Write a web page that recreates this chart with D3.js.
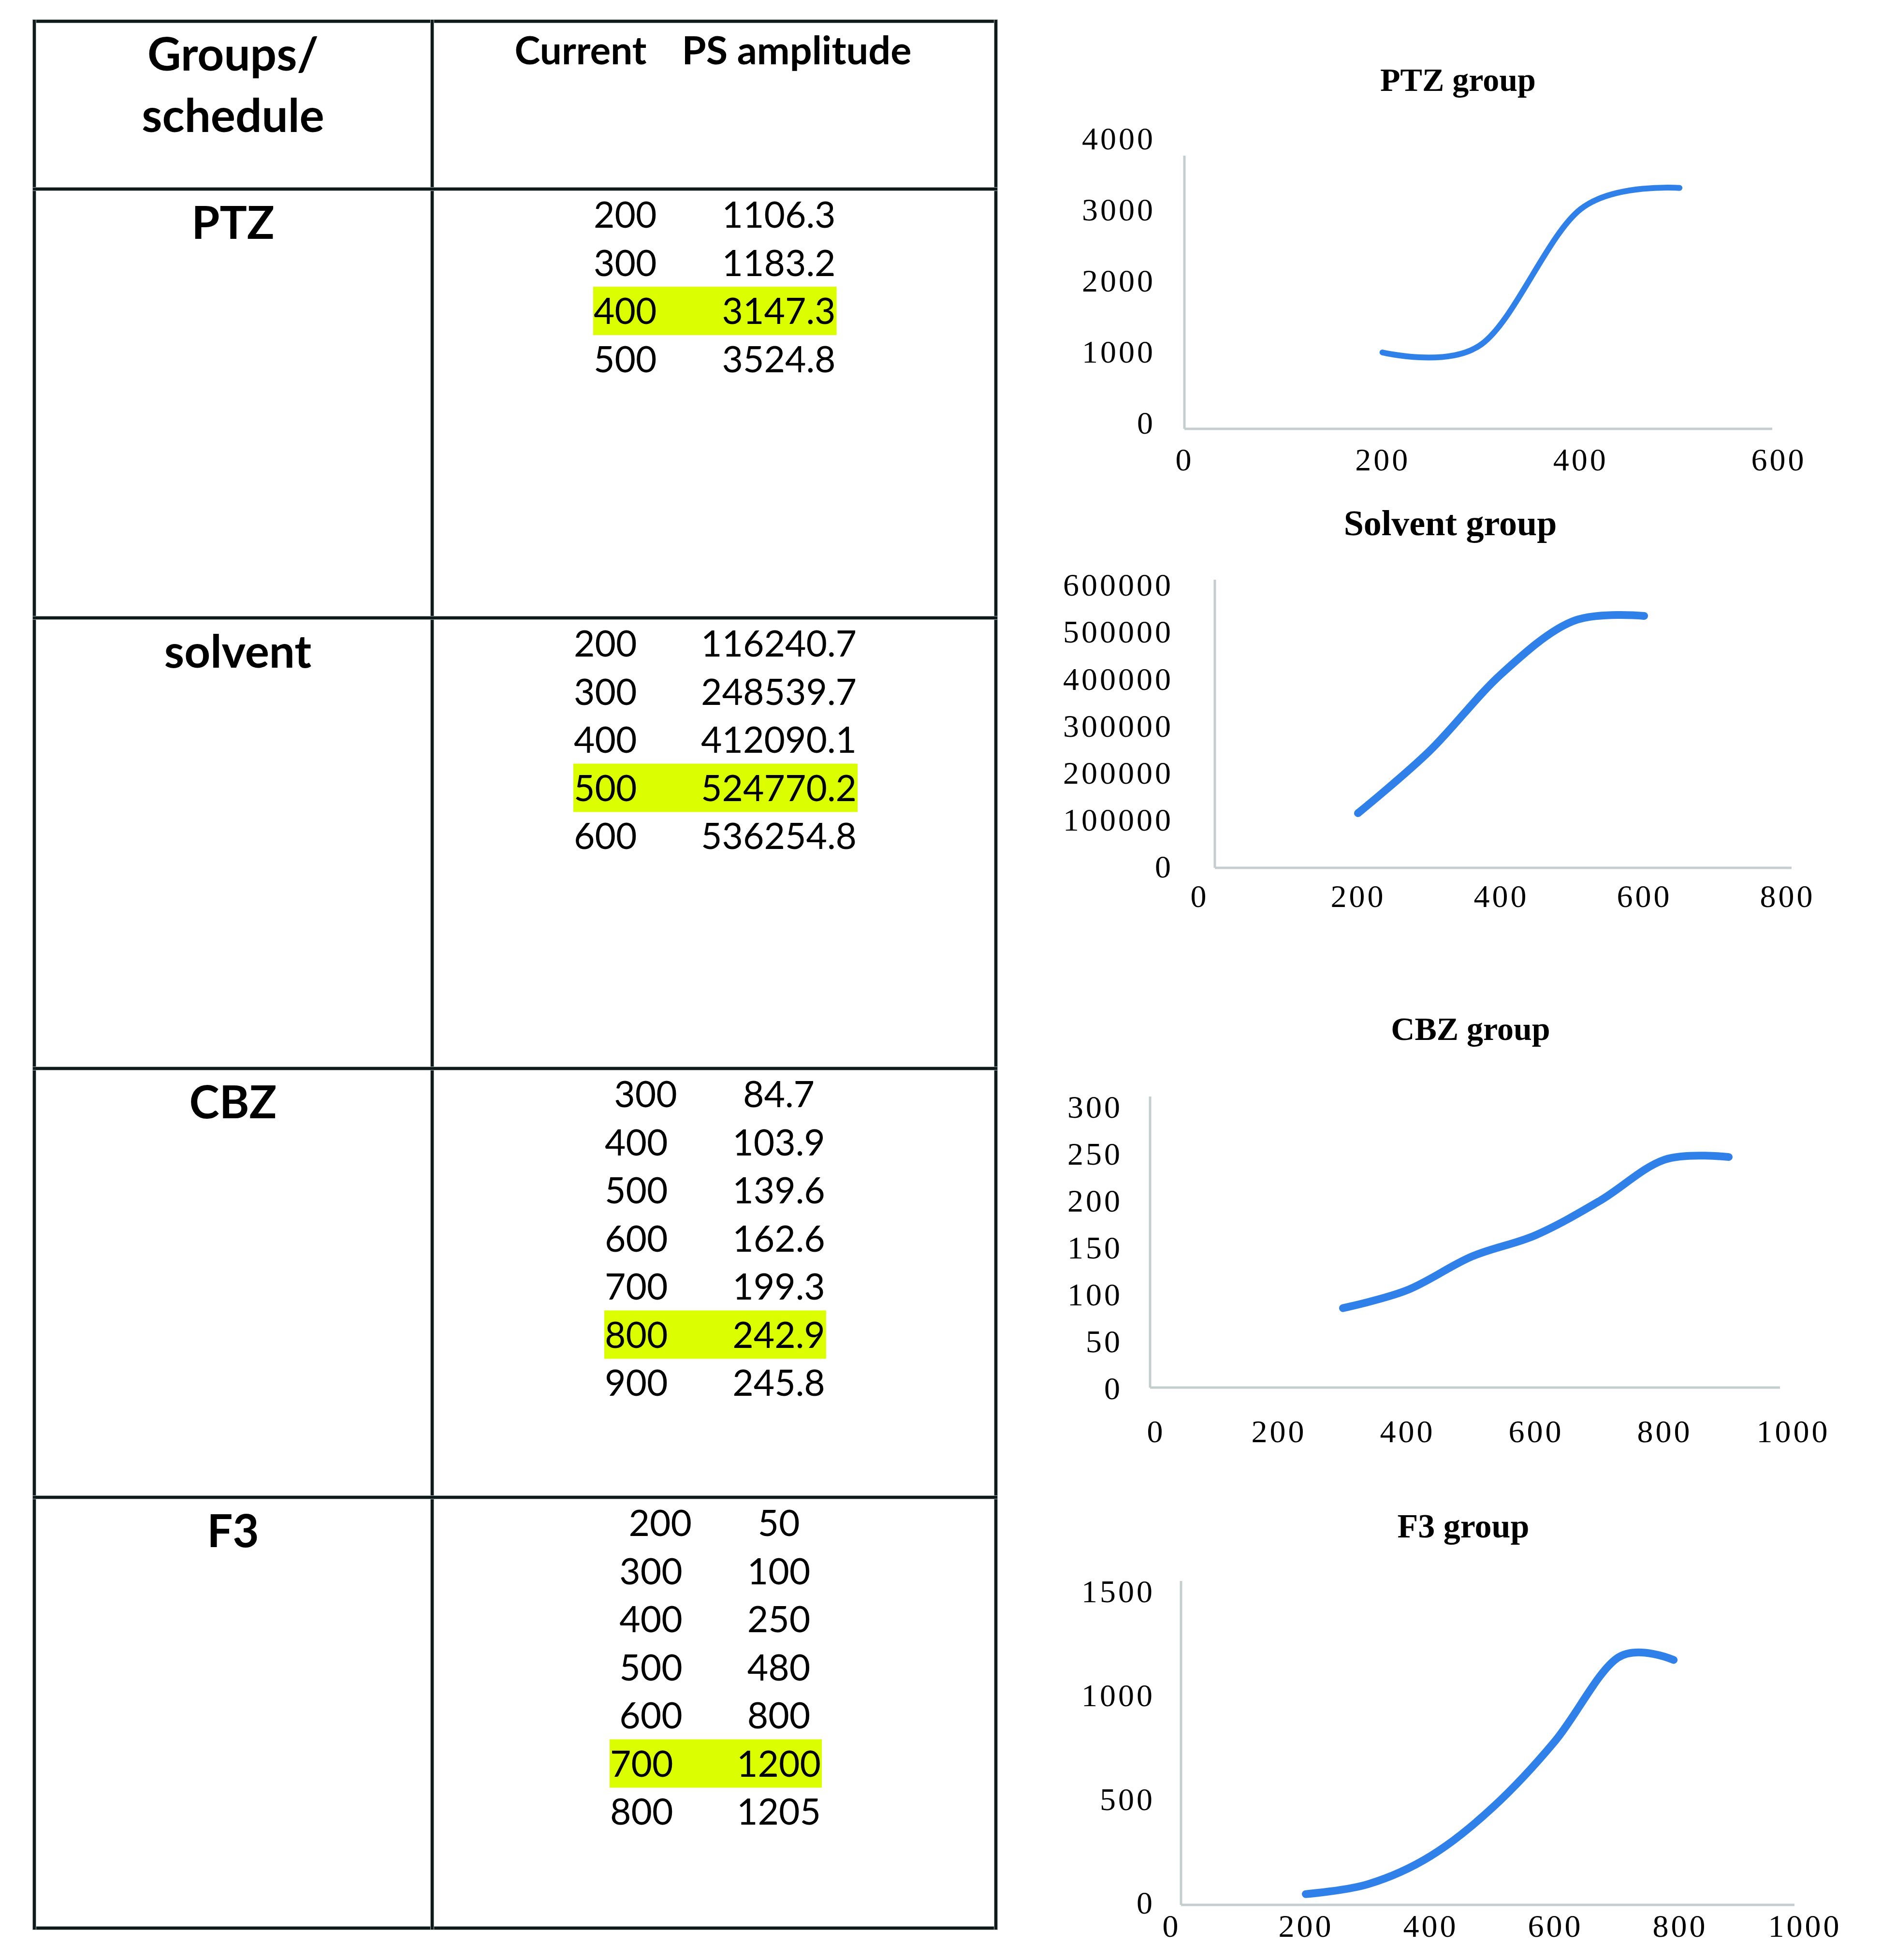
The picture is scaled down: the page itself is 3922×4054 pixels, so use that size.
<!DOCTYPE html>
<html><head><meta charset="utf-8">
<script src="https://cdn.jsdelivr.net/npm/d3@7"></script>
<style>body{margin:0;background:#fff} text.pre{white-space:pre}</style>
</head><body>
<svg id="c" width="3922" height="4054"></svg>
<script>
// ---------- DATA ----------
const groups = ["PTZ", "solvent", "CBZ", "F3"];
const headerLeft = ["Groups/", "schedule"];
const headerRight = ["Current", "PS amplitude"];

// current labels keep the leading spaces of the original table cells
const ptzCurrent = ["200", "300", "400", "500"];
const ptzAmplitude = ["1106.3", "1183.2", "3147.3", "3524.8"];
const solventCurrent = ["200", "300", "400", "500", "600"];
const solventAmplitude = ["116240.7", "248539.7", "412090.1", "524770.2", "536254.8"];
const cbzCurrent = [" 300", "400", "500", "600", "700", "800", "900"];
const cbzAmplitude = ["84.7", "103.9", "139.6", "162.6", "199.3", "242.9", "245.8"];
const f3Current = ["  200", " 300", " 400", " 500", " 600", "700", "800"];
const f3Amplitude = ["50", "100", "250", "480", "800", "1200", "1205"];
const highlightedRow = [2, 3, 5, 5];

const chartTitles = ["PTZ group", "Solvent group", "CBZ group", "F3 group"];
// curve values
const ptzX = [200, 300, 400, 500];
const ptzY = [1075, 1190, 3090, 3390];
const solventX = [200, 300, 400, 500, 600];
const solventY = [116240.7, 248539.7, 412090.1, 524770.2, 536254.8];
const cbzX = [300, 400, 500, 600, 700, 800, 900];
const cbzY = [84.7, 103.9, 139.6, 162.6, 199.3, 242.9, 245.8];
const f3X = [200, 300, 400, 500, 600, 700, 790];
const f3Y = [52, 100, 235, 470, 790, 1190, 1180];

const ptzXTicks = [0, 200, 400, 600];
const ptzYTicks = [0, 1000, 2000, 3000, 4000];
const solventXTicks = [0, 200, 400, 600, 800];
const solventYTicks = [0, 100000, 200000, 300000, 400000, 500000, 600000];
const cbzXTicks = [0, 200, 400, 600, 800, 1000];
const cbzYTicks = [0, 50, 100, 150, 200, 250, 300];
const f3XTicks = [0, 200, 400, 600, 800, 1000];
const f3YTicks = [0, 500, 1000, 1500];

// ---------- DRAW ----------
const svg = d3.select("#c");
svg.append("rect").attr("width", 3922).attr("height", 4054).attr("fill", "#fff");

// ---- table ----
const T = {left: 71, right: 2060, top: 44, bottom: 3988, divider: 894};
const groupTops = [391, 1278, 2210, 3097];
const currentLeft = [1228, 1187, 1251, 1262];
const valueX = 1611;
const rowStep = 99.5;
const firstRow = 53;
const tableRows = [
  [ptzCurrent, ptzAmplitude],
  [solventCurrent, solventAmplitude],
  [cbzCurrent, cbzAmplitude],
  [f3Current, f3Amplitude]
];

const hlG = svg.append("g");
const txtG = svg.append("g").attr("font-family", "Lato, 'Open Sans', sans-serif").attr("fill", "#000");

// headers
txtG.selectAll("text.hl").data(headerLeft).join("text")
  .attr("x", 482).attr("y", (d, i) => [146, 273][i])
  .attr("text-anchor", "middle").attr("font-weight", 700).attr("font-size", 96)
  .text(d => d);
txtG.append("text").attr("x", 1201).attr("y", 133).attr("text-anchor", "middle")
  .attr("font-weight", 700).attr("font-size", 80).text(headerRight[0]);
txtG.append("text").attr("x", 1648).attr("y", 133).attr("text-anchor", "middle")
  .attr("font-weight", 700).attr("font-size", 81).text(headerRight[1]);

groups.forEach((g, gi) => {
  const top = groupTops[gi];
  txtG.append("text").attr("x", 482 + (gi === 1 ? 10 : 0)).attr("y", top + 69).attr("dy", "0.36em")
    .attr("text-anchor", "middle").attr("font-weight", 700).attr("font-size", 94).text(g);
  const [cur, amp] = tableRows[gi];
  cur.forEach((c, ri) => {
    const cy = top + firstRow + ri * rowStep;
    txtG.append("text").attr("class", "pre").attr("xml:space", "preserve")
      .attr("x", currentLeft[gi]).attr("y", cy).attr("dy", "0.36em")
      .attr("text-anchor", "start").attr("font-size", 75).text(c);
    const t2 = txtG.append("text").attr("x", valueX).attr("y", cy).attr("dy", "0.36em")
      .attr("text-anchor", "middle").attr("font-size", 75).text(amp[ri]);
    if (ri === highlightedRow[gi]) {
      const b2 = t2.node().getBBox();
      hlG.append("rect").attr("x", currentLeft[gi] - 1).attr("y", cy - 50)
        .attr("width", b2.x + b2.width + 2 - (currentLeft[gi] - 1)).attr("height", 100)
        .attr("fill", "#dcff00");
    }
  });
});

// table lines
const lineG = svg.append("g").attr("stroke-linecap", "square");
function tl(x1, y1, x2, y2) {
  lineG.append("line").attr("x1", x1).attr("y1", y1).attr("x2", x2).attr("y2", y2)
    .attr("stroke", "#a9b3b3").attr("stroke-width", 8);
  lineG.append("line").attr("x1", x1).attr("y1", y1).attr("x2", x2).attr("y2", y2)
    .attr("stroke", "#111a1a").attr("stroke-width", 6);
}
tl(T.left, T.top, T.right, T.top);
tl(T.left, T.bottom, T.right, T.bottom);
tl(T.left, T.top, T.left, T.bottom);
tl(T.right, T.top, T.right, T.bottom);
tl(T.divider, T.top, T.divider, T.bottom);
groupTops.forEach(y => tl(T.left, y, T.right, y));

// ---- charts ----
const chartData = [
  {x: ptzX, y: ptzY, xt: ptzXTicks, yt: ptzYTicks},
  {x: solventX, y: solventY, xt: solventXTicks, yt: solventYTicks},
  {x: cbzX, y: cbzY, xt: cbzXTicks, yt: cbzYTicks},
  {x: f3X, y: f3Y, xt: f3XTicks, yt: f3YTicks}
];
const layout = [
  {tx: 3016, ty: 166, tsize: 68, x0: 2450, x1: 3679, y0: 887, y1: 299, axTop: 322, axRight: 3666, yPad: 60, yShift: -10, xLab: 950, zeroShift: 0, sw: 12},
  {tx: 3000, ty: 1083, tsize: 74, x0: 2513, x1: 3697, y0: 1795, y1: 1212, axTop: 1199, axRight: 3706, yPad: 86, yShift: 0, xLab: 1853, zeroShift: -32, sw: 16},
  {tx: 3042, ty: 2129, tsize: 68, x0: 2379, x1: 3709, y0: 2870, y1: 2288, axTop: 2268, axRight: 3682, yPad: 57, yShift: 4, xLab: 2960, zeroShift: 12, sw: 16},
  {tx: 3027, ty: 3157, tsize: 70, x0: 2443, x1: 3733, y0: 3940, y1: 3296, axTop: 3270, axRight: 3712, yPad: 54, yShift: -2, xLab: 3983, zeroShift: -20, sw: 16}
];

chartData.forEach((cd, ci) => {
  const L = layout[ci];
  const g = svg.append("g");
  const x = d3.scaleLinear().domain([0, d3.max(cd.xt)]).range([L.x0, L.x1]);
  const y = d3.scaleLinear().domain([0, d3.max(cd.yt)]).range([L.y0, L.y1]);

  g.append("text").attr("x", L.tx).attr("y", L.ty).attr("dy", "0.33em")
    .attr("text-anchor", "middle").attr("font-family", "'Liberation Serif', serif")
    .attr("font-weight", 700).attr("font-size", L.tsize).text(chartTitles[ci]);

  // axis lines
  g.append("line").attr("x1", x(0)).attr("y1", y(0)).attr("x2", L.axRight).attr("y2", y(0))
    .attr("stroke", "#c5cece").attr("stroke-width", 5);
  g.append("line").attr("x1", x(0)).attr("y1", y(0)).attr("x2", x(0)).attr("y2", L.axTop)
    .attr("stroke", "#c5cece").attr("stroke-width", 5);

  const ya = g.append("g").attr("transform", `translate(${x(0)},0)`)
    .call(d3.axisLeft(y).tickValues(cd.yt).tickSize(0).tickPadding(L.yPad).tickFormat(d3.format("d")));
  const xa = g.append("g").attr("transform", `translate(0,${L.xLab})`)
    .call(d3.axisBottom(x).tickValues(cd.xt).tickSize(0).tickPadding(0).tickFormat(d3.format("d")));
  [ya, xa].forEach(a => {
    a.select(".domain").remove();
    a.selectAll("text").attr("font-family", "'Liberation Serif', serif")
      .attr("font-size", 66).attr("letter-spacing", 5).attr("fill", "#000");
  });
  ya.selectAll("text").attr("y", L.yShift).attr("dy", "0.3em");
  xa.selectAll("text").attr("y", 0).attr("dy", "0.35em")
    .attr("x", d => d === 0 ? L.zeroShift : 0);

  const pts = cd.x.map((v, i) => [v, cd.y[i]]);
  g.append("path").datum(pts)
    .attr("d", d3.line().x(d => x(d[0])).y(d => y(d[1])).curve(d3.curveCatmullRom.alpha(0)))
    .attr("fill", "none").attr("stroke", "#2f80e8").attr("stroke-width", L.sw)
    .attr("stroke-linecap", "round").attr("stroke-linejoin", "round");
});
</script>
</body></html>
